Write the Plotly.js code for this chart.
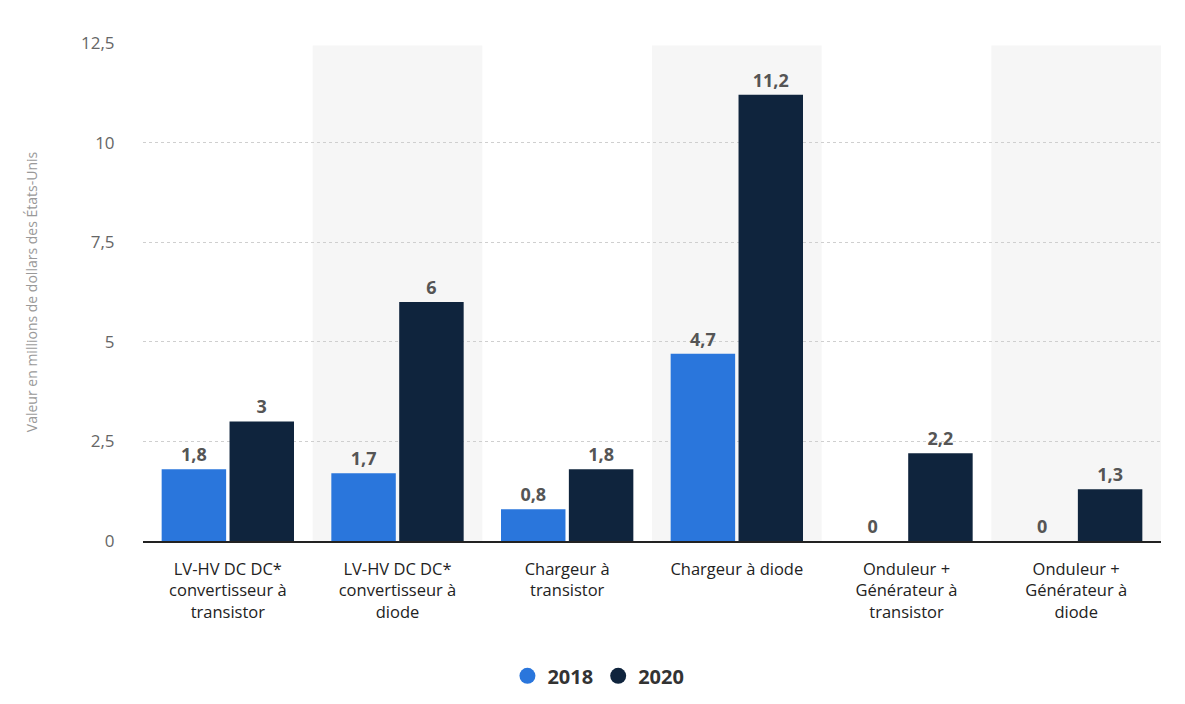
<!DOCTYPE html>
<html>
<head>
<meta charset="utf-8">
<script src="https://cdn.plot.ly/plotly-3.0.1.min.js"></script>
<style>html,body{margin:0;padding:0;background:#fff;}#chart{width:1185px;height:704px;}</style>
</head>
<body>
<div id="chart"></div>
<script>
const categories = [
  "LV-HV DC DC*<br>convertisseur à<br>transistor",
  "LV-HV DC DC*<br>convertisseur à<br>diode",
  "Chargeur à<br>transistor",
  "Chargeur à diode",
  "Onduleur +<br>Générateur à<br>transistor",
  "Onduleur +<br>Générateur à<br>diode"
];
const values2018 = [1.8, 1.7, 0.8, 4.7, 0, 0];
const values2020 = [3, 6, 1.8, 11.2, 2.2, 1.3];
const seriesNames = ["2018", "2020"];
const colors = ["#2a76dc", "#0f243d"];
const yTickVals = [0, 2.5, 5, 7.5, 10, 12.5];
const yTickText = ["0", "2,5", "5", "7,5", "10", "12,5"];

const fmt = v => String(v).replace('.', ',');
const idx = categories.map((c, i) => i);

function barTrace(vals, name, color) {
  return {
    type: 'bar', x: idx, y: vals, name: name, showlegend: false,
    marker: {color: color},
    text: vals.map(fmt), textposition: 'outside', cliponaxis: false,
    textfont: {family: 'Open Sans, sans-serif', size: 18, color: '#555', weight: 'bold'},
    hoverinfo: 'none'
  };
}
function legendTrace(name, color) {
  return {type: 'scatter', mode: 'markers', x: [null], y: [null], name: name,
    marker: {color: color, size: 19, symbol: 'circle'}, hoverinfo: 'none'};
}

const shapes = [1, 3, 5].map(i => ({
  type: 'rect', xref: 'x', yref: 'paper', x0: i - 0.5, x1: i + 0.5, y0: 0, y1: 0.995,
  fillcolor: '#f6f6f6', line: {width: 0}, layer: 'below'
}));

const data = [
  barTrace(values2018, seriesNames[0], colors[0]),
  barTrace(values2020, seriesNames[1], colors[1]),
  legendTrace(seriesNames[0], colors[0]),
  legendTrace(seriesNames[1], colors[1])
];

const layout = {
  width: 1185, height: 704,
  margin: {l: 143, r: 24, t: 43, b: 163},
  paper_bgcolor: '#ffffff', plot_bgcolor: 'rgba(0,0,0,0)',
  barmode: 'group', bargap: 0.2, bargroupgap: 0.05,
  font: {family: 'Open Sans, sans-serif', color: '#333'},
  shapes: shapes,
  xaxis: {
    tickmode: 'array', tickvals: idx, ticktext: categories,
    range: [-0.5, 5.5], showgrid: false, zeroline: false,
    showline: true, linecolor: '#222', linewidth: 2,
    ticks: 'outside', ticklen: 12, tickcolor: 'rgba(0,0,0,0)',
    tickfont: {size: 16.5, color: '#222', family: 'Open Sans, sans-serif'},
    fixedrange: true
  },
  yaxis: {
    range: [0, 12.5], tickmode: 'array', tickvals: yTickVals, ticktext: yTickText,
    showgrid: true, gridcolor: '#cfcfcf', griddash: 'dot', gridwidth: 1,
    zeroline: false, showline: false,
    ticks: 'outside', ticklen: 24, tickcolor: 'rgba(0,0,0,0)',
    tickfont: {size: 17, color: '#666', family: 'Open Sans, sans-serif'},
    title: {text: 'Valeur en millions de dollars des États-Unis', standoff: 40,
      font: {size: 14, color: '#999', family: 'Open Sans, sans-serif'}},
    fixedrange: true
  },
  legend: {
    orientation: 'h', xref: 'container', yref: 'container',
    x: 0.505, xanchor: 'center', y: 0.04, yanchor: 'middle',
    font: {size: 20, color: '#333', weight: 'bold', family: 'Open Sans, sans-serif'},
    itemwidth: 30, traceorder: 'normal'
  },
  showlegend: true
};

Plotly.newPlot('chart', data, layout, {displayModeBar: false, staticPlot: true});
</script>
</body>
</html>
